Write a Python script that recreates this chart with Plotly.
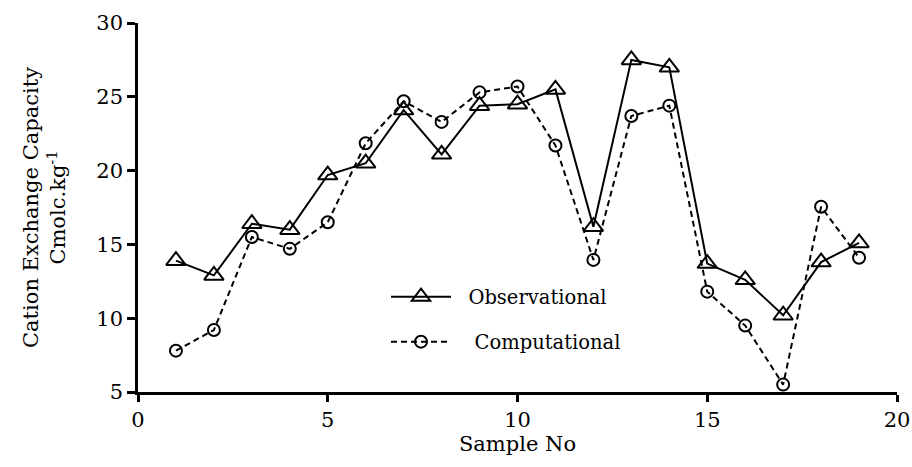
import plotly.graph_objects as go

samples = list(range(1, 20))
observational = [13.9, 12.9, 16.4, 16.0, 19.7, 20.5, 24.1, 21.1, 24.4, 24.5, 25.5, 16.2, 27.5, 27.0, 13.7, 12.6, 10.2, 13.8, 15.1]
computational = [7.8, 9.2, 15.5, 14.7, 16.5, 21.85, 24.7, 23.3, 25.3, 25.7, 21.7, 13.95, 23.7, 24.4, 11.8, 9.5, 5.5, 17.55, 14.1]

FONT = "'DejaVu Serif', serif"
NB = "\u00a0"

fig = go.Figure()
fig.add_trace(go.Scatter(
    x=samples, y=observational, mode="lines+markers", name=NB * 2 + "Observational",
    line=dict(color="black", width=2),
    marker=dict(symbol="triangle-up-open", size=17, color="black", line=dict(width=2)),
    legend="legend",
))
fig.add_trace(go.Scatter(
    x=samples, y=computational, mode="lines+markers", name=NB * 3 + "Computational",
    line=dict(color="black", width=2, dash="6px,4px"),
    marker=dict(symbol="circle-open", size=12, color="black", line=dict(width=2)),
    legend="legend2",
))

W, H = 912, 467
L, R, T, B = 138, 15, 23, 75
PW, PH = W - L - R, H - T - B

fig.update_layout(
    template="none",
    width=W, height=H,
    margin=dict(l=L, r=R, t=T, b=B),
    paper_bgcolor="white", plot_bgcolor="white",
    font=dict(family=FONT, size=21, color="black"),
    legend=dict(x=(386 - L) / PW, y=(392 - 297) / PH, xanchor="left", yanchor="middle",
                font=dict(size=19.5, color="black"), itemwidth=60, bgcolor="rgba(0,0,0,0)", borderwidth=0),
    legend2=dict(x=(386 - L) / PW, y=(392 - 342) / PH, xanchor="left", yanchor="middle",
                 font=dict(size=19.5, color="black"), itemwidth=60, bgcolor="rgba(0,0,0,0)", borderwidth=0),
    showlegend=True,
)
fig.update_xaxes(
    range=[0, 20], tickvals=[0, 5, 10, 15, 20], showgrid=False, zeroline=False, automargin=False,
    showline=True, linecolor="black", linewidth=2.5, ticks="outside", ticklen=7, tickwidth=2.5,
    tickcolor="black", tickfont=dict(size=21, color="black"),
    title=dict(text="Sample No", font=dict(size=21, color="black"), standoff=6),
)
fig.update_yaxes(
    range=[5, 30], tickvals=[5, 10, 15, 20, 25, 30], showgrid=False, zeroline=False, automargin=False,
    showline=True, linecolor="black", linewidth=2.5, ticks="outside", ticklen=8, tickwidth=2.5,
    tickcolor="black", tickfont=dict(size=21, color="black"),
    title=dict(text="Cation Exchange Capacity<br>Cmolc.kg<sup>-1</sup>", font=dict(size=21, color="black"), standoff=25),
)

fig.write_html("out.html")
